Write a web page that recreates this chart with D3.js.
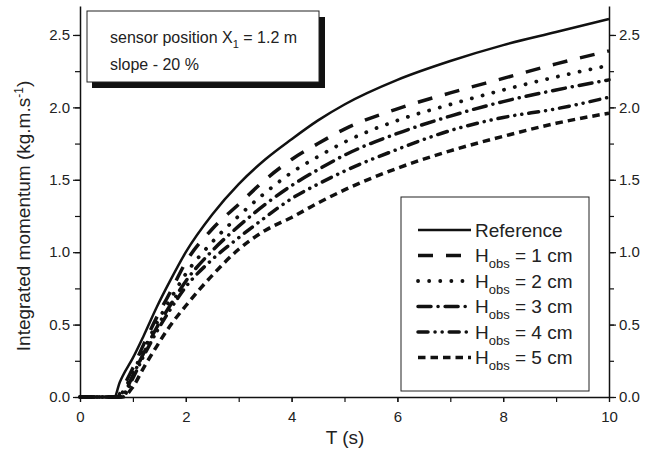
<!DOCTYPE html>
<html>
<head>
<meta charset="utf-8">
<script src="https://cdn.jsdelivr.net/npm/d3@7"></script>
<style>
  body { margin: 0; background: #fff; }
  text { font-family: "Liberation Sans", Arial, sans-serif; fill: #222; }
</style>
</head>
<body>
<div id="chart"></div>
<script>
// data
const refT = [0, 0.65, 0.75, 0.8, 1.0, 1.2, 1.45, 1.7, 2.0, 2.5, 3.0, 3.5, 4.0, 4.5, 5.0, 6.0, 7.0, 8.0, 9.0, 10];
const refV = [0, 0, 0.10, 0.14, 0.27, 0.42, 0.62, 0.80, 1.00, 1.26, 1.47, 1.64, 1.78, 1.91, 2.02, 2.19, 2.32, 2.43, 2.52, 2.61];

const hT = [0, 0.7, 0.8, 1.0, 1.2, 1.45, 1.7, 2.0, 2.5, 3.0, 3.5, 4.0, 4.5, 5.0, 6.0, 7.0, 8.0, 9.0, 10];
const h1V = [0, 0, 0.06, 0.20, 0.36, 0.55, 0.72, 0.93, 1.16, 1.33, 1.50, 1.64, 1.75, 1.85, 1.99, 2.10, 2.20, 2.30, 2.39];
const h2V = [0, 0, 0.03, 0.17, 0.32, 0.51, 0.67, 0.85, 1.07, 1.25, 1.41, 1.55, 1.66, 1.76, 1.91, 2.02, 2.12, 2.21, 2.29];
const h3V = [0, 0, 0.01, 0.15, 0.30, 0.48, 0.63, 0.80, 1.01, 1.18, 1.33, 1.46, 1.57, 1.67, 1.82, 1.94, 2.04, 2.12, 2.19];
const h4V = [0, 0, 0, 0.13, 0.28, 0.45, 0.60, 0.76, 0.95, 1.10, 1.24, 1.37, 1.47, 1.56, 1.71, 1.84, 1.93, 1.99, 2.07];
const h5V = [0, 0, 0, 0.07, 0.20, 0.35, 0.49, 0.63, 0.84, 1.02, 1.15, 1.24, 1.34, 1.43, 1.58, 1.70, 1.80, 1.89, 1.96];

const xTicks = [0, 2, 4, 6, 8, 10];
const yTicks = [0, 0.5, 1.0, 1.5, 2.0, 2.5];
const legendLabels = ["Reference", "1 cm", "2 cm", "3 cm", "4 cm", "5 cm"];

let series = [
  {t: refT, v: refV, dash: null, w: 2.5},
  {t: hT, v: h1V, dash: "15 13", w: 3.5},
  {t: hT, v: h2V, dash: "0.1 11", w: 3.8, cap: "round"},
  {t: hT, v: h3V, dash: "13 7 0.1 7", w: 3.5, cap: "round"},
  {t: hT, v: h4V, dash: "10 7 0.1 7 0.1 7", w: 3.5, cap: "round"},
  {t: hT, v: h5V, dash: "7.5 5", w: 3.5}
];

let width = 659, height = 452;
let svg = d3.select("#chart").append("svg")
    .attr("width", width)
    .attr("height", height);

let x = d3.scaleLinear().domain([0, 10]).range([80, 609]);
let y = d3.scaleLinear().domain([0, 2.7]).range([397, 6]);

let minorX = d3.range(0, 10.01, 1);
let minorY = d3.range(0, 2.51, 0.25);

// bottom axis
svg.append("g")
    .attr("transform", "translate(0,397)")
    .call(d3.axisBottom(x).tickValues(minorX).tickSize(5).tickFormat(""))
    .call(g => g.select(".domain").remove());
svg.append("g")
    .attr("transform", "translate(0,397)")
    .call(d3.axisBottom(x).tickValues(xTicks).tickSize(5).tickSizeOuter(0).tickFormat(d3.format("d")))
    .attr("font-size", 15)
    .call(g => g.selectAll("text").attr("dy", "1.1em"));

// left axis
svg.append("g")
    .attr("transform", "translate(80,0)")
    .call(d3.axisLeft(y).tickValues(minorY).tickSize(5).tickFormat(""))
    .call(g => g.select(".domain").remove());
svg.append("g")
    .attr("transform", "translate(80,0)")
    .call(d3.axisLeft(y).tickValues(yTicks).tickSize(7).tickSizeOuter(0).tickFormat(d3.format(".1f")))
    .attr("font-size", 15);

// right axis
svg.append("g")
    .attr("transform", "translate(609,0)")
    .call(d3.axisRight(y).tickValues(minorY).tickSize(5).tickFormat(""))
    .call(g => g.select(".domain").remove());
svg.append("g")
    .attr("transform", "translate(609,0)")
    .call(d3.axisRight(y).tickValues(yTicks).tickSize(7).tickSizeOuter(0).tickFormat(d3.format(".1f")))
    .attr("font-size", 15);

svg.selectAll(".domain").attr("stroke", "#111").attr("stroke-width", 1.5);
svg.selectAll(".tick line").attr("stroke", "#111").attr("stroke-width", 1.2);
svg.selectAll(".tick text").style("fill", "#222").attr("font-family", "Liberation Sans, Arial, sans-serif");

// axis titles
svg.append("text")
    .attr("x", 345)
    .attr("y", 444)
    .attr("text-anchor", "middle")
    .attr("font-size", 19)
    .text("T (s)");

let yt = svg.append("text")
    .attr("transform", "translate(30,216) rotate(-90)")
    .attr("text-anchor", "middle")
    .attr("font-size", 19);
yt.append("tspan").text("Integrated momentum (kg.m.s");
yt.append("tspan").attr("dy", -7).attr("font-size", 12).text("-1");
yt.append("tspan").attr("dy", 7).text(")");

// curves
let line = d3.line().curve(d3.curveMonotoneX);
series.forEach(s => {
  let pts = s.t.map((t, i) => [x(t), y(s.v[i])]);
  svg.append("path")
      .attr("d", line(pts))
      .attr("fill", "none")
      .attr("stroke", "#111")
      .attr("stroke-width", s.w)
      .attr("stroke-linecap", s.cap || "butt")
      .attr("stroke-dasharray", s.dash);
});

// info box with shadow
svg.append("rect").attr("x", 92).attr("y", 17).attr("width", 233).attr("height", 71).attr("fill", "#111");
svg.append("rect").attr("x", 87).attr("y", 11).attr("width", 232).attr("height", 71)
    .attr("fill", "#fff").attr("stroke", "#222").attr("stroke-width", 1);
let t1 = svg.append("text").attr("x", 110).attr("y", 43).attr("font-size", 16);
t1.append("tspan").text("sensor position X");
t1.append("tspan").attr("dy", 5).attr("font-size", 11).text("1");
t1.append("tspan").attr("dy", -5).text(" = 1.2 m");
svg.append("text").attr("x", 110).attr("y", 70).attr("font-size", 16).text("slope - 20 %");

// legend
svg.append("rect").attr("x", 401).attr("y", 197).attr("width", 188).attr("height", 194)
    .attr("fill", "#fff").attr("stroke", "#222").attr("stroke-width", 1);
series.forEach((s, i) => {
  let ly = 230 + i * 25.5;
  svg.append("line")
      .attr("x1", 418).attr("x2", 471)
      .attr("y1", ly).attr("y2", ly)
      .attr("stroke", "#111")
      .attr("stroke-width", s.w)
      .attr("stroke-linecap", s.cap || "butt")
      .attr("stroke-dasharray", s.dash);
  let lt = svg.append("text").attr("x", 475).attr("y", ly + 6.5).attr("font-size", 19);
  if (i === 0) {
    lt.text(legendLabels[i]);
  } else {
    lt.append("tspan").text("H");
    lt.append("tspan").attr("dy", 6).attr("font-size", 13).text("obs");
    lt.append("tspan").attr("dy", -6).text(" = " + legendLabels[i]);
  }
});
</script>
</body>
</html>
